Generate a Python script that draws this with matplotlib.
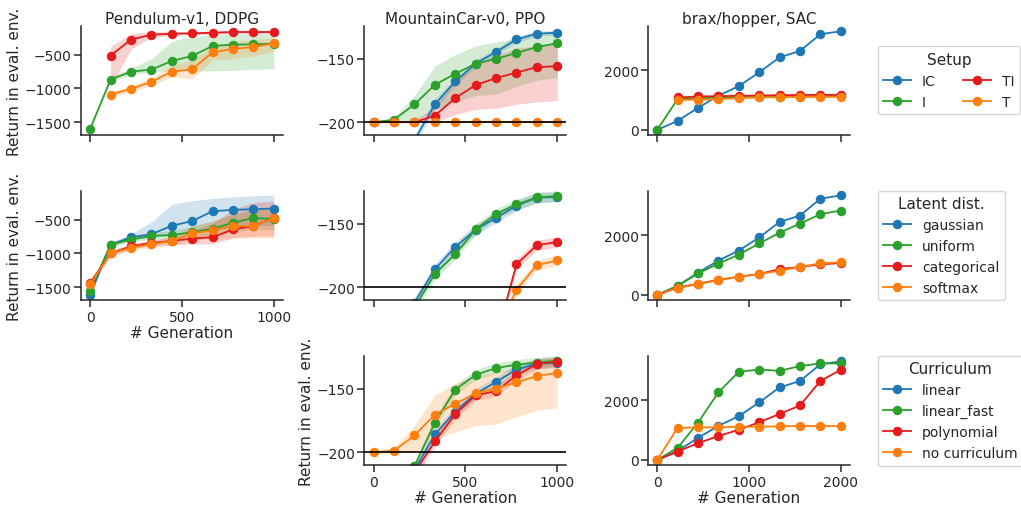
import numpy as np
import matplotlib
matplotlib.use("Agg")
import matplotlib.pyplot as plt

nan = np.nan

# ---------------- data ----------------
gen_small = np.linspace(0, 1000, 10)
gen_brax = np.linspace(0, 2000, 10)

titles = ["Pendulum-v1, DDPG", "MountainCar-v0, PPO", "brax/hopper, SAC"]

# colours
c_blue = "#1f77b4"
c_green = "#2ca02c"
c_red = "#e41a1c"
c_orange = "#ff7f0e"

setup_names = ["IC", "I", "TI", "T"]
latent_names = ["gaussian", "uniform", "categorical", "softmax"]
curric_names = ["linear", "linear_fast", "polynomial", "no curriculum"]

# ---- Row 1: Setup ----
# Pendulum
pend_I = [-1600, -869, -751, -722, -594, -520, -372, -352, -347, -337]
pend_I_lo = [-1600, -900, -800, -760, -740, -740, -740, -730, -720, -710]
pend_I_hi = [-1600, -830, -700, -560, -300, -230, -210, -205, -200, -195]
pend_TI = [nan, -515, -278, -204, -190, -185, -175, -165, -165, -165]
pend_TI_lo = [nan, -980, -420, -245, -215, -205, -200, -195, -195, -195]
pend_TI_hi = [nan, -380, -190, -160, -160, -160, -150, -140, -140, -140]
pend_T = [nan, -1091, -1007, -904, -751, -717, -466, -416, -387, -333]
pend_T_lo = [nan, -1130, -1050, -960, -830, -860, -580, -560, -520, -450]
pend_T_hi = [nan, -1050, -960, -850, -660, -580, -380, -300, -280, -250]

# MountainCar
mc_IC = [-260, -240, -214, -186, -168, -154, -144.8, -135, -130.5, -129.7]
mc_IC_lo = [-264, -244, -218, -190, -171, -157, -147.5, -137.5, -132.5, -131.5]
mc_IC_hi = [-256, -236, -210, -182, -165, -151, -142, -132.5, -128.5, -128]
mc_I = [-200, -198, -186, -170.6, -162, -154, -150.3, -145.6, -141, -138]
mc_I_lo = [-200, -200, -200, -190, -184, -179, -178, -172, -167, -165]
mc_I_hi = [-200, -196, -179, -156, -147, -140, -137, -134, -131, -128]
mc_TI = [-200, -200, -200, -194.8, -181, -170.8, -165.4, -161, -156.8, -156]
mc_TI_lo = [-200, -200, -200, -200, -194, -190, -189, -186, -184, -183]
mc_TI_hi = [-200, -200, -198, -188, -168, -155, -147, -142, -140, -139]
mc_T = [-200, -200, -200, -200, -200, -200, -200, -200, -200, -200]

# brax
bx_IC = [0, 302, 737, 1140, 1464, 1922, 2425, 2637, 3196, 3296]
bx_I = [0, 1030, 1060, 1080, 1090, 1100, 1110, 1110, 1120, 1120]
bx_TI = [nan, 1084, 1117, 1128, 1140, 1150, 1160, 1165, 1170, 1173]
bx_T = [nan, 1006, 1006, 1028, 1061, 1084, 1095, 1106, 1106, 1106]

# ---- Row 2: Latent distribution ----
pl_gauss = [-1615, -870, -760, -715, -590, -520, -375, -355, -345, -335]
pl_gauss_lo = [-1640, -900, -800, -770, -710, -690, -630, -610, -595, -585]
pl_gauss_hi = [-1590, -835, -710, -535, -270, -220, -185, -160, -145, -135]
pl_unif = [-1550, -870, -795, -740, -730, -685, -635, -545, -475, -490]
pl_unif_lo = [-1580, -900, -830, -790, -790, -760, -730, -680, -640, -650]
pl_unif_hi = [-1520, -840, -760, -690, -660, -600, -520, -420, -350, -340]
pl_cat = [-1435, -1000, -895, -845, -815, -780, -760, -645, -595, -475]
pl_cat_lo = [-1470, -1040, -935, -885, -875, -860, -860, -765, -745, -745]
pl_cat_hi = [-1400, -960, -855, -805, -755, -660, -560, -345, -245, -225]
pl_soft = [-1460, -1000, -915, -865, -815, -700, -660, -595, -595, -480]
pl_soft_lo = [-1500, -1040, -960, -910, -880, -800, -790, -780, -770, -770]
pl_soft_hi = [-1420, -960, -870, -820, -750, -600, -520, -420, -380, -300]

ml_gauss = [-290, -250, -212, -185.8, -168.4, -154.7, -145.5, -136, -129.7, -129.2]
ml_unif = [-300, -260, -216, -189.5, -174.2, -154.5, -142.4, -135, -129.5, -128.4]
ml_cat = [-300, -300, -300, -290, -280, -270, -241, -182, -167, -164.5]
ml_soft = [-300, -300, -300, -290, -280, -270, -238, -201.8, -182.6, -179]

bl_gauss = [0, 303, 742, 1146, 1483, 1921, 2438, 2652, 3213, 3326]
bl_unif = [0, 303, 719, 1045, 1348, 1719, 2079, 2382, 2697, 2820]
bl_cat = [0, 247, 371, 506, 607, 697, 865, 933, 1022, 1067]
bl_soft = [0, 236, 360, 494, 607, 697, 809, 933, 1056, 1090]

# ---- Row 3: Curriculum ----
mcur_lin = [-260, -240, -214, -186, -168, -154, -144.8, -135, -130.5, -129.7]
mcur_fast = [-260, -235, -211, -176.7, -150.8, -139.2, -133.9, -131.2, -129.6, -128]
mcur_poly = [-270, -245, -216, -191.5, -170, -155.3, -152, -139.7, -130.7, -128.8]
mcur_none = [-200, -198.7, -186.8, -170.4, -161.9, -153.7, -150, -145, -140.2, -137.6]
mcur_none_lo = [-200, -200, -200, -190, -184, -179, -178, -172, -167, -165]
mcur_none_hi = [-200, -196, -179, -155, -146, -140, -137, -134, -130, -126]

bcur_lin = [0, 302, 737, 1140, 1464, 1922, 2425, 2637, 3196, 3296]
bcur_fast = [0, 404, 1247, 2258, 2944, 3022, 2978, 3135, 3225, 3225]
bcur_poly = [0, 281, 562, 798, 1011, 1258, 1539, 1820, 2640, 3011]
bcur_none = [0, 1067, 1090, 1090, 1112, 1112, 1124, 1135, 1135, 1135]

# ---------------- style ----------------
txt = "#262626"
plt.rcParams.update({
    "font.family": "DejaVu Sans",
    "font.size": 10,
    "text.color": txt,
    "axes.labelcolor": txt,
    "axes.edgecolor": txt,
    "axes.linewidth": 1.1,
    "axes.titlesize": 11,
    "axes.labelsize": 11,
    "axes.titlepad": 2.5,
    "axes.labelpad": 2,
    "xtick.color": txt,
    "ytick.color": txt,
    "xtick.labelsize": 10,
    "ytick.labelsize": 10,
    "xtick.major.size": 5.3,
    "ytick.major.size": 5.3,
    "xtick.major.width": 1.1,
    "ytick.major.width": 1.1,
    "xtick.major.pad": 2.0,
    "ytick.major.pad": 1.5,
    "legend.fontsize": 10,
    "legend.title_fontsize": 11,
    "axes.spines.top": False,
    "axes.spines.right": False,
})

fig = plt.figure(figsize=(10.21, 5.06), dpi=100)
axes = fig.subplots(3, 3, sharex="col", sharey="col",
                    gridspec_kw=dict(left=0.0793, right=0.8325, top=0.9466,
                                     bottom=0.079, wspace=0.4035, hspace=0.515))


def draw(ax, x, y, color, label, lo=None, hi=None):
    x = np.asarray(x, float)
    y = np.asarray(y, float)
    if lo is not None:
        ax.fill_between(x, np.asarray(lo, float), np.asarray(hi, float),
                        color=color, alpha=0.2, lw=0)
    ax.plot(x, y, color=color, lw=1.3, marker="o", ms=6, mew=0.8,
            mec=color, label=label)


cols4 = [c_blue, c_green, c_red, c_orange]

# Row 1
ax = axes[0, 0]
draw(ax, gen_small, pend_I, c_green, "I", pend_I_lo, pend_I_hi)
draw(ax, gen_small, pend_TI, c_red, "TI", pend_TI_lo, pend_TI_hi)
draw(ax, gen_small, pend_T, c_orange, "T", pend_T_lo, pend_T_hi)

ax = axes[0, 1]
draw(ax, gen_small, mc_IC, c_blue, "IC", mc_IC_lo, mc_IC_hi)
draw(ax, gen_small, mc_I, c_green, "I", mc_I_lo, mc_I_hi)
draw(ax, gen_small, mc_TI, c_red, "TI", mc_TI_lo, mc_TI_hi)
draw(ax, gen_small, mc_T, c_orange, "T")

ax = axes[0, 2]
for yv, c, n in zip([bx_IC, bx_I, bx_TI, bx_T], cols4, setup_names):
    draw(ax, gen_brax, yv, c, n)

# Row 2
ax = axes[1, 0]
draw(ax, gen_small, pl_gauss, c_blue, "gaussian", pl_gauss_lo, pl_gauss_hi)
draw(ax, gen_small, pl_unif, c_green, "uniform", pl_unif_lo, pl_unif_hi)
draw(ax, gen_small, pl_cat, c_red, "categorical", pl_cat_lo, pl_cat_hi)
draw(ax, gen_small, pl_soft, c_orange, "softmax", pl_soft_lo, pl_soft_hi)

ax = axes[1, 1]
for yv, c, n in zip([ml_gauss, ml_unif, ml_cat, ml_soft], cols4, latent_names):
    yv = np.asarray(yv, float)
    draw(ax, gen_small, yv, c, n, yv - 4, yv + 4)

ax = axes[1, 2]
for yv, c, n in zip([bl_gauss, bl_unif, bl_cat, bl_soft], cols4, latent_names):
    draw(ax, gen_brax, yv, c, n)

# Row 3
ax = axes[2, 1]
for yv, c, n in zip([mcur_lin, mcur_fast, mcur_poly], cols4[:3], curric_names[:3]):
    yv = np.asarray(yv, float)
    draw(ax, gen_small, yv, c, n, yv - 4, yv + 4)
draw(ax, gen_small, mcur_none, c_orange, "no curriculum", mcur_none_lo, mcur_none_hi)

ax = axes[2, 2]
for yv, c, n in zip([bcur_lin, bcur_fast, bcur_poly, bcur_none], cols4, curric_names):
    draw(ax, gen_brax, yv, c, n)

axes[2, 0].remove()

# reference line for MountainCar
for r in range(3):
    axes[r, 1].axhline(-200, color="black", lw=1.2, zorder=3)

# limits & ticks
axes[0, 0].set_xlim(-50, 1050)
axes[0, 1].set_xlim(-50, 1050)
axes[0, 2].set_xlim(-100, 2100)
axes[0, 0].set_ylim(-1690, -76)
axes[0, 1].set_ylim(-210, -124.5)
axes[0, 2].set_ylim(-168, 3470)
axes[0, 0].set_xticks([0, 500, 1000])
axes[0, 1].set_xticks([0, 500, 1000])
axes[0, 2].set_xticks([0, 1000, 2000])
axes[0, 0].set_yticks([-1500, -1000, -500])
axes[0, 1].set_yticks([-200, -150])
axes[0, 2].set_yticks([0, 2000])

for c in range(3):
    axes[0, c].set_title(titles[c])

axes[1, 0].tick_params(labelbottom=True)
for a in [axes[1, 0], axes[2, 1], axes[2, 2]]:
    a.set_xlabel("# Generation", labelpad=0.3)
for a in [axes[0, 0], axes[1, 0], axes[2, 1]]:
    a.set_ylabel("Return in eval. env.")

# legends
leg_x = 877.5 / 1021
for r, (title, names, ncol) in enumerate([("Setup", setup_names, 2),
                                           ("Latent dist.", latent_names, 1),
                                           ("Curriculum", curric_names, 1)]):
    ax = axes[r, 2]
    h, l = ax.get_legend_handles_labels()
    pos = ax.get_position()
    yc = (pos.y0 + pos.y1) / 2
    ax.legend(h, l, title=title, ncol=ncol, loc="center left",
              bbox_to_anchor=(leg_x, yc), bbox_transform=fig.transFigure,
              borderaxespad=0, frameon=True, edgecolor="0.8")

fig.savefig("out.png", dpi=100)
